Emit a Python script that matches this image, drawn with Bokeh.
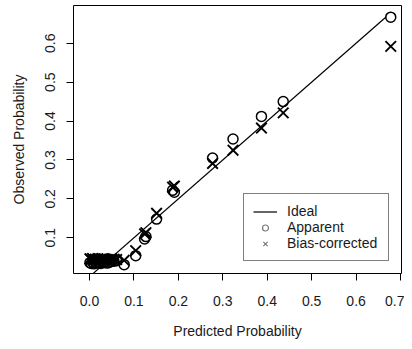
import math
from bokeh.plotting import figure
from bokeh.models import (FixedTicker, NumeralTickFormatter, Legend, LegendItem, Range1d,
                          ColumnDataSource)
from bokeh.embed import file_html
from bokeh.resources import INLINE

# Data
pred = [0.001, 0.004, 0.007, 0.010, 0.013, 0.016, 0.019, 0.022, 0.025, 0.028, 0.032, 0.036,
        0.040, 0.045, 0.050, 0.055, 0.061,
        0.078, 0.104, 0.124, 0.127, 0.151, 0.187, 0.191, 0.277, 0.323, 0.387, 0.436, 0.678]
apparent = [0.036, 0.034, 0.038, 0.033, 0.037, 0.035, 0.039, 0.036, 0.034, 0.038, 0.036, 0.038,
            0.035, 0.037, 0.039, 0.040, 0.041,
            0.031, 0.054, 0.097, 0.103, 0.148, 0.222, 0.217, 0.305, 0.354, 0.412, 0.450, 0.667]
bias_corrected = [0.046, 0.044, 0.047, 0.043, 0.045, 0.044, 0.046, 0.043, 0.045, 0.044, 0.046, 0.045,
                  0.043, 0.044, 0.046, 0.045, 0.044,
                  0.042, 0.067, 0.110, 0.113, 0.163, 0.230, 0.233, 0.291, 0.325, 0.382, 0.421, 0.592]
ideal_x = [0.0, 0.668]
ideal_y = [0.0, 0.668]
x_ticks = [0.0, 0.1, 0.2, 0.3, 0.4, 0.5, 0.6, 0.7]
y_ticks = [0.1, 0.2, 0.3, 0.4, 0.5, 0.6]

FONT = "Liberation Sans"
TXT = "#1a1a1a"
FS = "14px"

src = ColumnDataSource(dict(pred=pred, apparent=apparent, bias=bias_corrected))

p = figure(width=404, height=341, output_backend="svg", toolbar_location=None,
           x_range=Range1d(-0.036, 0.7022), y_range=Range1d(0.0082, 0.697),
           min_border_left=73, min_border_right=3, min_border_top=5, min_border_bottom=66)
# an off-screen range used only by the legend sample glyphs
p.extra_y_ranges = {"legend_only": Range1d(10, 11)}
p.grid.visible = False
p.outline_line_color = "black"
p.outline_line_width = 1
p.background_fill_color = "white"
p.border_fill_color = "white"

for ax, ticks in ((p.xaxis[0], x_ticks), (p.yaxis[0], y_ticks)):
    ax.ticker = FixedTicker(ticks=ticks)
    ax.formatter = NumeralTickFormatter(format="0.0")
    ax.axis_line_color = None
    ax.major_tick_line_color = "black"
    ax.major_tick_in = 0
    ax.major_tick_out = 7
    ax.minor_tick_line_color = None
    ax.major_label_text_font = FONT
    ax.major_label_text_font_size = FS
    ax.major_label_text_color = TXT
    ax.axis_label_text_font = FONT
    ax.axis_label_text_font_size = FS
    ax.axis_label_text_font_style = "normal"
    ax.axis_label_text_color = TXT

p.xaxis.axis_label = "Predicted Probability"
p.yaxis.axis_label = "Observed Probability"
p.xaxis.major_label_standoff = 15
p.xaxis.axis_label_standoff = 14
p.yaxis.major_label_orientation = "vertical"
p.yaxis.major_label_standoff = 11
p.yaxis.axis_label_standoff = 16

ideal = p.line(ideal_x, ideal_y, line_color="black", line_width=1.2)
p.scatter("pred", "apparent", source=src, marker="circle", size=10, fill_color=None,
          line_color="black", line_width=1.5)
p.scatter("pred", "bias", source=src, marker="x", size=15, line_color="black", line_width=1.9)

# legend-only renderers (mapped onto the off-screen range, so they draw nothing in the plot)
l_circ = p.scatter("pred", "apparent", source=src, y_range_name="legend_only", marker="circle",
                   size=7, fill_color=None, line_color="#777777", line_width=1.2)
l_x = p.scatter("pred", "bias", source=src, y_range_name="legend_only", marker="x", size=13,
                line_color="#777777", line_width=1.2)

legend = Legend(items=[LegendItem(label="Ideal", renderers=[ideal]),
                       LegendItem(label="Apparent", renderers=[l_circ]),
                       LegendItem(label="Bias-corrected", renderers=[l_x])],
                location=(170, 12))
legend.border_line_color = "black"
legend.border_line_width = 1
legend.background_fill_alpha = 1
legend.padding = 9
legend.spacing = 0
legend.margin = 0
legend.label_height = 15
legend.glyph_height = 15
legend.glyph_width = 24
legend.label_standoff = 10
legend.label_width = 92
legend.label_text_font = FONT
legend.label_text_font_size = FS
legend.label_text_color = TXT
p.add_layout(legend, "center")

open("out.html", "w").write(file_html(p, INLINE))
